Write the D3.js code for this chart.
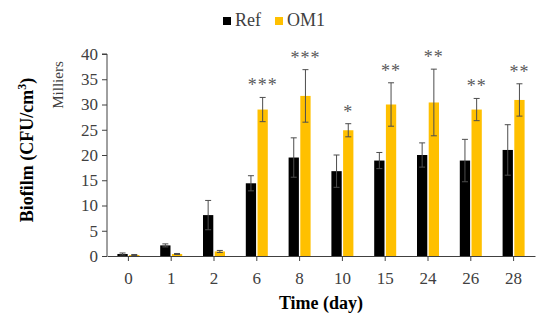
<!DOCTYPE html>
<html>
<head>
<meta charset="utf-8">
<script src="https://d3js.org/d3.v7.min.js"></script>
<style>
  body { margin: 0; background: #fff; }
  svg { display: block; }
</style>
</head>
<body>
<div id="chart"></div>
<script>
// jours
const days = ['0', '1', '2', '6', '8', '10', '15', '24', '26', '28'];
const seriesNames = ['Ref', 'OM1'];
// valeurs (milliers CFU/cm3)
const refValues = [0.4, 2.1, 8.1, 14.4, 19.5, 16.8, 18.9, 20.0, 18.9, 21.0];
const refErrors = [0.2, 0.3, 2.9, 1.5, 3.9, 3.2, 1.6, 2.4, 4.2, 5.0];
const om1Values = [0.2, 0.4, 0.9, 29.0, 31.7, 24.9, 30.0, 30.4, 29.0, 30.9];
const om1Errors = [0.1, 0.1, 0.2, 2.4, 5.2, 1.3, 4.3, 6.6, 2.2, 3.2];
const stars = ['', '', '', '***', '***', '*', '**', '**', '**', '**'];
const yTicks = [0, 5, 10, 15, 20, 25, 30, 35, 40];

const colors = { Ref: '#000000', OM1: '#FFC000' };

const width = 550, height = 321;
const svg = d3.select('#chart').append('svg')
  .attr('width', width)
  .attr('height', height)
  .style('font-family', '"Liberation Serif", "Times New Roman", serif');

const x = d3.scaleBand().domain(days).range([107, 535]);
const x1 = d3.scaleBand().domain(seriesNames).range([-11, 11]).paddingInner(0.12);
const y = d3.scaleLinear().domain([0, 40]).range([256, 54]);

const rows = days.map((d, i) => ({
  day: d,
  star: stars[i],
  bars: [
    { name: 'Ref', value: refValues[i], err: refErrors[i] },
    { name: 'OM1', value: om1Values[i], err: om1Errors[i] }
  ]
}));

// barres
const groups = svg.append('g').selectAll('g')
  .data(rows)
  .enter()
  .append('g')
  .attr('transform', d => `translate(${x(d.day) + x.bandwidth() / 2},0)`);

groups.selectAll('rect')
  .data(d => d.bars)
  .enter()
  .append('rect')
  .attr('x', d => x1(d.name))
  .attr('y', d => y(d.value))
  .attr('width', x1.bandwidth())
  .attr('height', d => y(0) - y(d.value))
  .attr('fill', d => colors[d.name]);

// barres d'erreur
const eb = groups.selectAll('g.err')
  .data(d => d.bars)
  .enter()
  .append('g')
  .attr('class', 'err')
  .attr('stroke', '#4d4d4d')
  .attr('stroke-width', 1);

eb.append('line')
  .attr('x1', d => x1(d.name) + x1.bandwidth() / 2)
  .attr('x2', d => x1(d.name) + x1.bandwidth() / 2)
  .attr('y1', d => y(d.value - d.err))
  .attr('y2', d => y(d.value + d.err));
[1, -1].forEach(s => {
  eb.append('line')
    .attr('x1', d => x1(d.name) + x1.bandwidth() / 2 - 3)
    .attr('x2', d => x1(d.name) + x1.bandwidth() / 2 + 3)
    .attr('y1', d => y(d.value + s * d.err))
    .attr('y2', d => y(d.value + s * d.err));
});

// étoiles
groups.append('text')
  .attr('x', x1('OM1') + x1.bandwidth() / 2)
  .attr('y', d => y(d.bars[1].value + d.bars[1].err) - 6)
  .attr('text-anchor', 'middle')
  .attr('font-size', '18px')
  .attr('letter-spacing', '1px')
  .attr('fill', '#595959')
  .text(d => d.star);

// axes
const yAxis = svg.append('g')
  .attr('transform', 'translate(107,0)')
  .call(d3.axisLeft(y).tickValues(yTicks).tickSize(5).tickPadding(4));
const xAxis = svg.append('g')
  .attr('transform', `translate(0,${y(0)})`)
  .call(d3.axisBottom(x).tickSize(5).tickSizeOuter(0).tickPadding(11));

[yAxis, xAxis].forEach(a => {
  a.select('.domain').attr('stroke', '#404040');
  a.selectAll('.tick line').attr('stroke', '#404040');
  a.selectAll('text')
    .attr('font-family', '"Liberation Serif", "Times New Roman", serif')
    .attr('font-size', '17px')
    .attr('fill', '#404040');
});
yAxis.selectAll('.domain').attr('d', `M-5,${y(40)}H0V${y(0)}`);

// titres
svg.append('text')
  .attr('x', 321)
  .attr('y', 309)
  .attr('text-anchor', 'middle')
  .attr('font-size', '18px')
  .attr('font-weight', 'bold')
  .text('Time (day)');

const yt = svg.append('text')
  .attr('transform', 'translate(33,150) rotate(-90)')
  .attr('text-anchor', 'middle')
  .attr('font-size', '18px')
  .attr('font-weight', 'bold');
yt.append('tspan').text('Biofilm (CFU/cm');
yt.append('tspan').attr('dy', -7).attr('font-size', '12px').text('3');
yt.append('tspan').attr('dy', 7).text(')');

svg.append('text')
  .attr('transform', 'translate(63,85) rotate(-90)')
  .attr('text-anchor', 'middle')
  .attr('font-size', '15px')
  .attr('fill', '#404040')
  .text('Milliers');

// légende
const legend = svg.append('g').selectAll('g')
  .data(seriesNames)
  .enter()
  .append('g')
  .attr('transform', (d, i) => `translate(${[223, 275][i]},17)`);
legend.append('rect')
  .attr('width', 8)
  .attr('height', 8)
  .attr('fill', d => colors[d]);
legend.append('text')
  .attr('x', 12)
  .attr('y', 9)
  .attr('font-size', '18px')
  .attr('fill', '#404040')
  .text(d => d);
</script>
</body>
</html>
